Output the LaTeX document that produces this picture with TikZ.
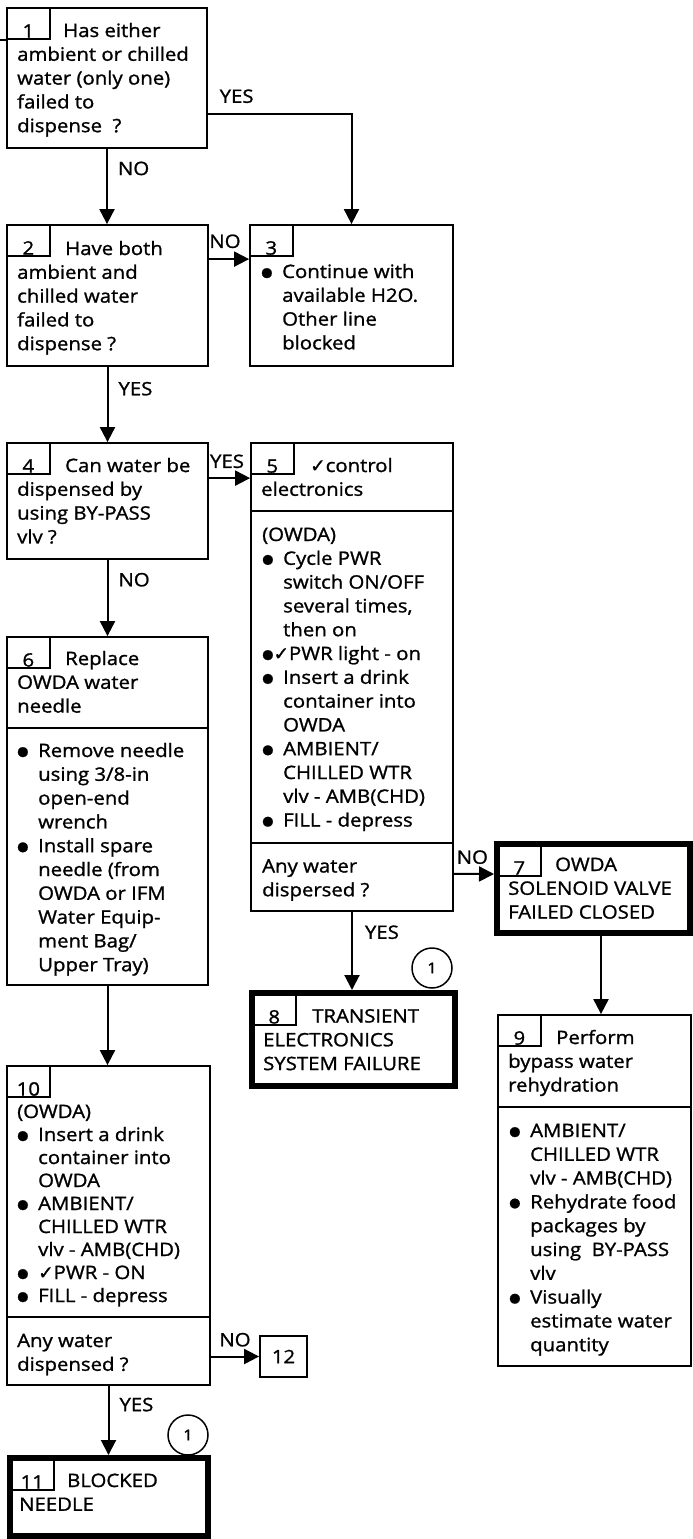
\documentclass[tikz,border=0pt]{standalone}
\usepackage{fontspec}
\setmainfont{Open Sans}[FakeStretch=1.1, FakeBold=1.2]
\newfontfamily\dvsans{DejaVu Sans}[FakeBold=1.2]
\usetikzlibrary{arrows.meta}
\newcommand\chk{{\dvsans ✓}}
\newcommand\dotmark{\raisebox{1.5pt}{\dvsans\fontsize{13pt}{13pt}\selectfont ●}}
\newcommand\bul{\makebox[21pt][l]{\dotmark}}
\newcommand\indt{\hspace*{21pt}}
\newcommand\txtlines[1]{\parbox[t]{200pt}{\raggedright #1}}

\begin{document}
\begin{tikzpicture}[x=1pt, y=-1pt, >={Triangle[length=15pt, width=15pt]},
    font=\fontsize{18.5pt}{23.8pt}\selectfont,
    stepbox/.style={draw, line width=1.8pt, inner sep=0pt},
    endbox/.style={draw, line width=6pt, inner sep=0pt},
    numtab/.style={draw, line width=1.5pt, anchor=north west, minimum width=43pt, minimum height=31pt, inner sep=0pt,
        label={[anchor=base, inner sep=0pt, yshift=2pt]south:#1}},
    txt/.style={anchor=base west, inner sep=0pt},
    lbl/.style={inner sep=0pt},
    conn/.style={line width=2pt},
    circ/.style={circle, draw, line width=1.5pt, minimum size=40pt, inner sep=0pt, font=\fontsize{15pt}{15pt}\selectfont}]
    \useasboundingbox (0,0) rectangle (693,1539);
    % boxes
    \node (b1)  [stepbox, minimum width=200pt, minimum height=140pt] at (107,78) {};
    \node (b2)  [stepbox, minimum width=201pt, minimum height=141pt] at (107.5,295.5) {};
    \node (b3)  [stepbox, minimum width=203pt, minimum height=141pt] at (351.5,295.5) {};
    \node (b4)  [stepbox, minimum width=201pt, minimum height=116pt] at (107.5,501) {};
    \node (b5)  [stepbox, minimum width=202pt, minimum height=468pt] at (352,677) {};
    \node (b6)  [stepbox, minimum width=201pt, minimum height=348pt] at (107.5,811) {};
    \node (b7)  [endbox, minimum width=193pt, minimum height=89pt] at (593.5,888.5) {};
    \node (b8)  [endbox, minimum width=203pt, minimum height=93pt] at (353.5,1039.5) {};
    \node (b9)  [stepbox, minimum width=193pt, minimum height=351pt] at (594.5,1190.5) {};
    \node (b10) [stepbox, minimum width=203pt, minimum height=319pt] at (108.5,1225.5) {};
    \node (b11) [endbox, minimum width=198pt, minimum height=78pt] at (109,1497) {};
    \node (b12) [stepbox, minimum width=47pt, minimum height=41pt] at (283.5,1356.5) {12};
    % section lines
    \draw [line width=1.8pt] (b5.west |- 0,511) -- (b5.east |- 0,511);
    \draw [line width=1.8pt] (b5.west |- 0,843) -- (b5.east |- 0,843);
    \draw [line width=1.8pt] (b6.west |- 0,728) -- (b6.east |- 0,728);
    \draw [line width=1.8pt] (b9.west |- 0,1107) -- (b9.east |- 0,1107);
    \draw [line width=1.8pt] (b10.west |- 0,1317) -- (b10.east |- 0,1317);
    % number tabs
    \node (t1)  [numtab=1] at (b1.north west) {};
    \node (t2)  [numtab=2] at (b2.north west) {};
    \node (t3)  [numtab=3] at (b3.north west) {};
    \node (t4)  [numtab=4] at (b4.north west) {};
    \node (t5)  [numtab=5] at (b5.north west) {};
    \node (t6)  [numtab=6] at (b6.north west) {};
    \node (t7)  [numtab=7] at ([xshift=3pt, yshift=-3pt]b7.north west) {};
    \node (t8)  [numtab=8] at ([xshift=3pt, yshift=-3pt]b8.north west) {};
    \node (t9)  [numtab=9] at (b9.north west) {};
    \node (t10) [numtab=10] at (b10.north west) {};
    \node (t11) [numtab=11] at ([xshift=3pt, yshift=-3pt]b11.north west) {};
    % texts
    \node (x1) [txt] at (17,37) {\txtlines{\hspace*{46pt}Has either\\ambient or chilled\\water (only one)\\failed to\\dispense\ \ ?}};
    \node (x2) [txt] at (17,255) {\txtlines{\hspace*{48pt}Have both\\ambient and\\chilled water\\failed to\\dispense ?}};
    \node (x3) [txt] at (261,278) {\txtlines{\bul Continue with\\\indt available H2O.\\\indt Other line\\\indt blocked}};
    \node (x4) [txt] at (17,472) {\txtlines{\hspace*{48pt}Can water be\\dispensed by\\using BY-PASS\\vlv ?}};
    \node (x5) [txt] at (261,472) {\txtlines{\hspace*{49pt}\chk control\\electronics}};
    \node (x5b) [txt] at (262,541) {\txtlines{(OWDA)\\\bul Cycle PWR\\\indt switch ON/OFF\\\indt several times,\\\indt then on\\\dotmark\chk PWR light - on\\\bul Insert a drink\\\indt container into\\\indt OWDA\\\bul AMBIENT/\\\indt CHILLED WTR\\\indt vlv - AMB(CHD)\\\bul FILL - depress}};
    \node (x5c) [txt] at (262,872.5) {\txtlines{Any water\\dispersed ?}};
    \node (x6) [txt] at (17,665) {\txtlines{\hspace*{48pt}Replace\\OWDA water\\needle}};
    \node (x6b) [txt] at (17,757) {\txtlines{\bul Remove needle\\\indt using 3/8-in\\\indt open-end\\\indt wrench\\\bul Install spare\\\indt needle (from\\\indt OWDA or IFM\\\indt Water Equip-\\\indt ment Bag/\\\indt Upper Tray)}};
    \node (x7) [txt] at (508,871) {\txtlines{\hspace*{47pt}OWDA\\SOLENOID VALVE\\FAILED CLOSED}};
    \node (x8) [txt] at (263,1022.5) {\txtlines{\hspace*{49pt}TRANSIENT\\ELECTRONICS\\SYSTEM FAILURE}};
    \node (x9) [txt] at (508,1044) {\txtlines{\hspace*{48pt}Perform\\bypass water\\rehydration}};
    \node (x9b) [txt] at (509,1137) {\txtlines{\bul AMBIENT/\\\indt CHILLED WTR\\\indt vlv - AMB(CHD)\\\bul Rehydrate food\\\indt packages by\\\indt using\ \ BY-PASS\\\indt vlv\\\bul Visually\\\indt estimate water\\\indt quantity}};
    \node (x10) [txt, font=\fontsize{18.5pt}{23pt}\selectfont] at (17,1118) {\txtlines{(OWDA)\\\bul Insert a drink\\\indt container into\\\indt OWDA\\\bul AMBIENT/\\\indt CHILLED WTR\\\indt vlv - AMB(CHD)\\\bul\chk PWR - ON\\\bul FILL - depress}};
    \node (x10b) [txt] at (17,1347) {\txtlines{Any water\\dispensed ?}};
    \node (x11) [txt] at (19,1487) {\txtlines{\hspace*{48pt}BLOCKED\\NEEDLE}};
    % return marks
    \node (c8)  [circ] at (432,968) {1};
    \node (c11) [circ] at (188,1435) {1};
    % entry
    \coordinate (in1) at (0,0);
    \draw [conn] (in1 |- t1.south west) -- (t1.south west);
    % flow 1 -> 2, 3 -> 4
    \draw [conn, ->] ([yshift=-36pt]b1.east) -| node[lbl, pos=0.1, above=10pt] {YES} (b3.north);
    \draw [conn, ->] (b1.south) -- node[lbl, pos=0.26, right=10pt] {NO} (b1.south |- b2.north);
    \draw [conn, ->] ([yshift=-35pt]b2.north east) -- node[lbl, pos=0.4, above=10pt] {NO} ([yshift=-35pt]b3.north west);
    \draw [conn, ->] (b2.south) -- node[lbl, pos=0.29, right=10pt] {YES} (b2.south |- b4.north);
    % flow 4 -> 5, 6
    \draw [conn, ->] ([yshift=-36pt]b4.north east) -- node[lbl, pos=0.44, above=9pt] {YES} ([yshift=-36pt]b5.north west);
    \draw [conn, ->] (b4.south) -- node[lbl, pos=0.26, right=10pt] {NO} (b4.south |- b6.north);
    % flow 5 -> 7, 8 and 7 -> 9
    \draw [conn, ->] ([yshift=38pt]b5.south east) -- node[lbl, pos=0.46, above=9pt] {NO} ([yshift=14.5pt]b7.west);
    \draw [conn, ->] (b5.south) -- node[lbl, pos=0.26, right=12pt] {YES} (b5.south |- b8.north);
    \draw [conn, ->] ([xshift=7.5pt]b7.south) -- ([xshift=6.5pt]b9.north);
    % flow 6 -> 10 -> 11, 12
    \draw [conn, ->] (b6.south) -- (b6.south |- b10.north);
    \draw [conn, ->] (b10.east |- b12.west) -- node[lbl, pos=0.5, above=9pt] {NO} (b12.west);
    \draw [conn, ->] (b10.south) -- node[lbl, pos=0.27, right=10pt] {YES} (b10.south |- b11.north);
\end{tikzpicture}
\end{document}
